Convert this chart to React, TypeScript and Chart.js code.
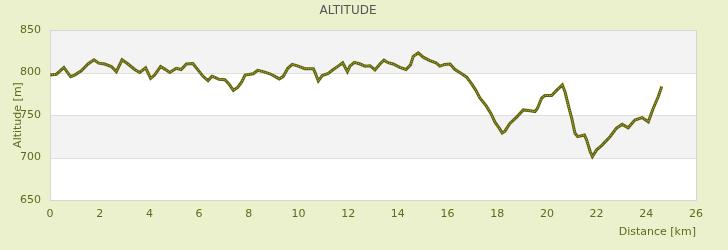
import React, { useEffect, useRef } from "react";
import { Chart, registerables } from "chart.js";

Chart.register(...registerables);

const distances = [
  0, 0.26, 0.56, 0.83, 0.99, 1.26, 1.53, 1.77, 1.96, 2.2, 2.47, 2.67, 2.9, 3.14, 3.41, 3.61, 3.85, 4.05, 4.21, 4.45,
  4.62, 4.82, 5.08, 5.28, 5.49, 5.75, 5.93, 6.16, 6.36, 6.52, 6.66, 6.8, 7.04, 7.2, 7.38, 7.55, 7.71, 7.85, 8.18, 8.36,
  8.58, 8.85, 9.05, 9.23, 9.39, 9.57, 9.75, 9.99, 10.26, 10.6, 10.66, 10.8, 10.96, 11.2, 11.4, 11.6, 11.78, 11.97, 12.07,
  12.25, 12.48, 12.68, 12.88, 13.08, 13.28, 13.44, 13.61, 13.81, 14.08, 14.33, 14.51, 14.62, 14.82, 15.02, 15.29, 15.53,
  15.69, 15.89, 16.1, 16.3, 16.57, 16.77, 16.97, 17.14, 17.3, 17.55, 17.75, 17.91, 18.08, 18.2, 18.31, 18.51, 18.78,
  19.05, 19.32, 19.52, 19.62, 19.79, 19.92, 20.19, 20.39, 20.62, 20.73, 20.89, 21.0, 21.13, 21.24, 21.51, 21.6, 21.74,
  21.83, 22.0, 22.2, 22.54, 22.8, 23.03, 23.27, 23.54, 23.83, 24.08, 24.28, 24.48, 24.62,
];

const altitudes = [
  797, 798, 806, 795, 797, 802, 810, 815, 811, 810, 807, 801, 815, 810, 803.5, 800, 805.5, 793, 797, 807,
  804, 800, 805, 803.5, 810, 810.5, 804, 795.5, 790.5, 795.5, 794, 792, 791.5, 786.5, 779, 782.5, 788.5, 797, 798.5, 802.5,
  801, 798.5, 795.5, 792.5, 795.5, 805, 809.5, 807.5, 804.5, 804.5, 800.5, 790, 796.5, 799, 803.5, 807.5, 811.5, 801, 807.5,
  812, 810, 807.5, 808, 803, 810, 814.5, 811.5, 810, 806, 803.5, 809, 819, 823, 818, 814, 811.5,
  807.5, 809.5, 810, 803.5, 798.5, 794.5, 786.5, 779, 770, 761, 751.5, 741.5, 734.5, 729, 731, 740, 747.5,
  756, 755, 754, 758, 770, 773, 773, 779, 785.5, 777, 758, 746, 728.5, 724.5, 726.5, 720.5, 707,
  701, 709, 714, 724.5, 734.5, 739, 735, 744, 747, 742, 758, 771.5, 783.5,
];

const xTicks = [0, 2, 4, 6, 8, 10, 12, 14, 16, 18, 20, 22, 24, 26];
const yTicks = [650, 700, 750, 800, 850];

const BG = "#ebf0cd";
const TICK = "#5d6b1c";
const FONT = "DejaVu Sans";

const bandsPlugin = {
  id: "bands",
  beforeDatasetsDraw(chart: any) {
    const { ctx, chartArea, scales } = chart;
    const y = scales.y;
    ctx.save();
    for (let i = 0; i < yTicks.length - 1; i++) {
      const lo = yTicks[i];
      const hi = yTicks[i + 1];
      const idx = (lo - yTicks[0]) / 50;
      ctx.fillStyle = idx % 2 === 1 ? "#f3f3f3" : "#ffffff";
      const top = y.getPixelForValue(hi);
      const bot = y.getPixelForValue(lo);
      ctx.fillRect(chartArea.left, top, chartArea.right - chartArea.left, bot - top);
    }
    ctx.strokeStyle = "#dedede";
    ctx.lineWidth = 1;
    for (const v of yTicks) {
      const py = Math.round(y.getPixelForValue(v)) + 0.5;
      ctx.beginPath();
      ctx.moveTo(chartArea.left, py);
      ctx.lineTo(chartArea.right, py);
      ctx.stroke();
    }
    ctx.strokeStyle = "#d6d6d6";
    ctx.strokeRect(
      Math.round(chartArea.left) + 0.5,
      Math.round(chartArea.top) + 0.5,
      Math.round(chartArea.right - chartArea.left),
      Math.round(chartArea.bottom - chartArea.top)
    );
    ctx.restore();
  },
};

const bgPlugin = {
  id: "bg",
  beforeDraw(chart: any) {
    const { ctx, width, height } = chart;
    ctx.save();
    ctx.fillStyle = BG;
    ctx.fillRect(0, 0, width, height);
    ctx.restore();
  },
};

export default function App() {
  const ref = useRef<HTMLCanvasElement | null>(null);

  useEffect(() => {
    document.body.style.margin = "0";
    const canvas = ref.current;
    if (!canvas) return;
    const points = distances.map((d, i) => ({ x: d, y: altitudes[i] }));
    const chart = new Chart(canvas, {
      type: "line",
      data: {
        datasets: [
          {
            data: points,
            borderColor: "#c2c440",
            borderWidth: 1,
            borderDash: [1, 1],
            pointRadius: 0,
            tension: 0,
            fill: false,
            order: 0,
          },
          {
            data: points,
            borderColor: "#5c5f0f",
            borderWidth: 3,
            pointRadius: 0,
            tension: 0,
            fill: false,
            order: 1,
          },
        ],
      },
      plugins: [bgPlugin, bandsPlugin],
      options: {
        responsive: false,
        animation: false,
        layout: { padding: { left: 0, right: 32, top: 0, bottom: 0 } },
        plugins: {
          legend: { display: false },
          tooltip: { enabled: false },
          title: {
            display: true,
            text: "ALTITUDE",
            color: "#555555",
            font: { family: FONT, size: 12, weight: "normal" },
            padding: { top: 3.5, bottom: 12.1 },
          },
        },
        scales: {
          x: {
            type: "linear",
            min: 0,
            max: 26,
            afterFit: (s: any) => {
              s.height = 50;
            },
            afterBuildTicks: (s: any) => {
              s.ticks = xTicks.map((v) => ({ value: v }));
            },
            grid: { display: false, drawTicks: false },
            border: { display: false },
            ticks: {
              color: TICK,
              font: { family: FONT, size: 11 },
              padding: 8,
              maxRotation: 0,
              autoSkip: false,
            },
            title: {
              display: true,
              text: "Distance [km]",
              align: "end",
              color: TICK,
              font: { family: FONT, size: 11 },
              padding: { top: 0, bottom: 11 },
            },
          },
          y: {
            type: "linear",
            min: 650,
            max: 850,
            afterFit: (s: any) => {
              s.width = 50;
            },
            afterBuildTicks: (s: any) => {
              s.ticks = yTicks.map((v) => ({ value: v }));
            },
            grid: { display: false, drawTicks: false },
            border: { display: false },
            ticks: {
              color: TICK,
              font: { family: FONT, size: 11 },
              padding: 9,
            },
            title: {
              display: true,
              text: "Altitude [m]",
              color: TICK,
              font: { family: FONT, size: 11 },
              padding: { top: 12, bottom: 0 },
            },
          },
        },
      },
    });
    return () => chart.destroy();
  }, []);

  return (
    <div style={{ width: 728, height: 250, background: BG }}>
      <canvas ref={ref} width={728} height={250} style={{ display: "block" }} />
    </div>
  );
}
